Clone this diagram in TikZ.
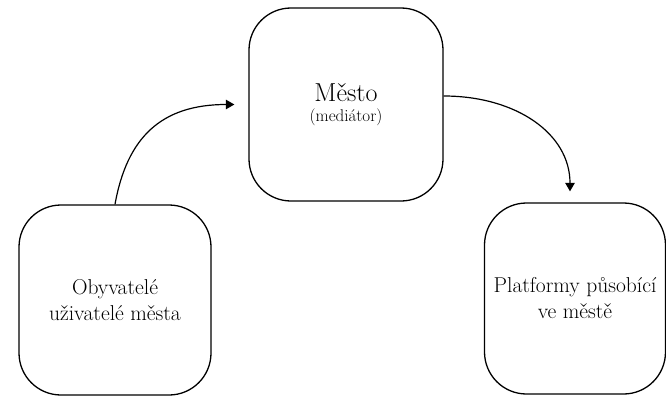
\documentclass[tikz,border=0pt]{standalone}
\usepackage{fontspec}
\usetikzlibrary{arrows.meta}
\begin{document}
\begin{tikzpicture}[x=1pt,y=-1pt,
  boxnode/.style={draw, line width=1.3pt, rounded corners=42pt, align=center, inner sep=0pt},
  arr/.style={line width=1.2pt, -{Triangle[length=8.5pt,width=9.5pt]}}]
\useasboundingbox (0,0) rectangle (666,396);
\node[boxnode, minimum width=194pt, minimum height=193pt,
      font=\fontsize{26}{20}\selectfont] (mesto) at (346,104.5)
  {Město\\{\fontsize{17}{20}\selectfont (mediátor)}};
\node[boxnode, minimum width=192pt, minimum height=190pt,
      font=\fontsize{21.5}{26}\selectfont] (obyv) at (115,300)
  {Obyvatelé\\uživatelé města};
\node[boxnode, minimum width=181pt, minimum height=191pt,
      font=\fontsize{21.5}{26}\selectfont] (plat) at (575,298.5)
  {Platformy působící\\ve městě};
\coordinate (a1end) at ([xshift=-14pt]mesto.west);
\coordinate (a2start) at ([yshift=8.5pt]mesto.east);
\coordinate (a2end) at ([xshift=-5pt,yshift=11pt]plat.north);
\draw[arr] (obyv.north) .. controls ++(12,-67) and ++(-73,0) .. (a1end);
\draw[arr] (a2start) .. controls ++(72,0) and ++(0,-58) .. (a2end);
\end{tikzpicture}
\end{document}
